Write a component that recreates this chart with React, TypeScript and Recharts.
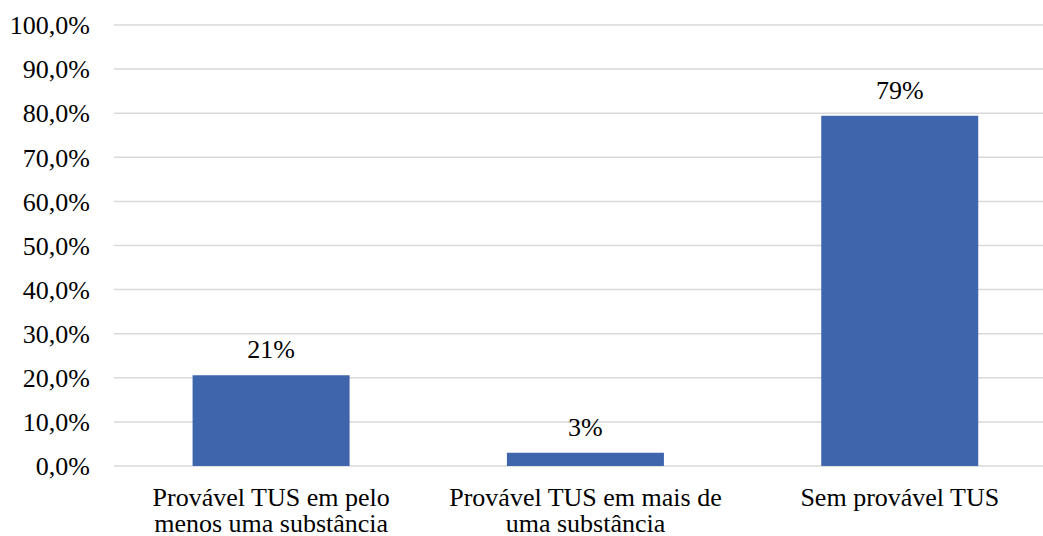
import React from "react";
import { BarChart, Bar, XAxis, YAxis, CartesianGrid, LabelList } from "recharts";

const categories = [
  "Provável TUS em pelo menos uma substância",
  "Provável TUS em mais de uma substância",
  "Sem provável TUS",
];
const categoryLines = [
  ["Provável TUS em pelo", "menos uma substância"],
  ["Provável TUS em mais de", "uma substância"],
  ["Sem provável TUS"],
];
const values = [20.6, 3.0, 79.4];
const valueLabels = ["21%", "3%", "79%"];
const yTicks = [0, 10, 20, 30, 40, 50, 60, 70, 80, 90, 100];

const data = categories.map((c, i) => ({ name: c, value: values[i], label: valueLabels[i] }));

const FONT = "Liberation Serif";

const XTick = (props: any) => {
  const { x, y, payload } = props;
  const lines = categoryLines[payload.index] || [payload.value];
  return (
    <g>
      {lines.map((ln: string, i: number) => (
        <text
          key={i}
          x={x}
          y={y + 40 + i * 25.5}
          textAnchor="middle"
          fontFamily={FONT}
          fontSize={26}
          fill="#000"
        >
          {ln}
        </text>
      ))}
    </g>
  );
};

export default function App() {
  return (
    <div
      style={{
        position: "absolute",
        left: 0,
        top: 0,
        width: 1043,
        height: 536,
        overflow: "hidden",
        background: "#fff",
      }}
    >
      <BarChart
        width={1057}
        height={536}
        data={data}
        margin={{ top: 25, right: 0, bottom: 0, left: 0 }}
        barCategoryGap="25%"
      >
        <CartesianGrid vertical={false} stroke="#D9D9D9" strokeWidth={1.5} />
        <XAxis
          dataKey="name"
          axisLine={false}
          tickLine={false}
          tickSize={0}
          tickMargin={0}
          height={70}
          interval={0}
          tick={<XTick />}
        />
        <YAxis
          domain={[0, 100]}
          ticks={yTicks}
          width={114}
          axisLine={false}
          tickLine={false}
          tickSize={0}
          tickMargin={24}
          interval={0}
          tickFormatter={(v: number) => v.toFixed(1).replace(".", ",") + "%"}
          tick={{ fontFamily: FONT, fontSize: 26, fill: "#000" }}
        />
        <Bar dataKey="value" fill="#3F65AD" isAnimationActive={false}>
          <LabelList
            dataKey="label"
            position="top"
            offset={17}
            fontFamily={FONT}
            fontSize={26}
            fill="#000"
          />
        </Bar>
      </BarChart>
    </div>
  );
}
